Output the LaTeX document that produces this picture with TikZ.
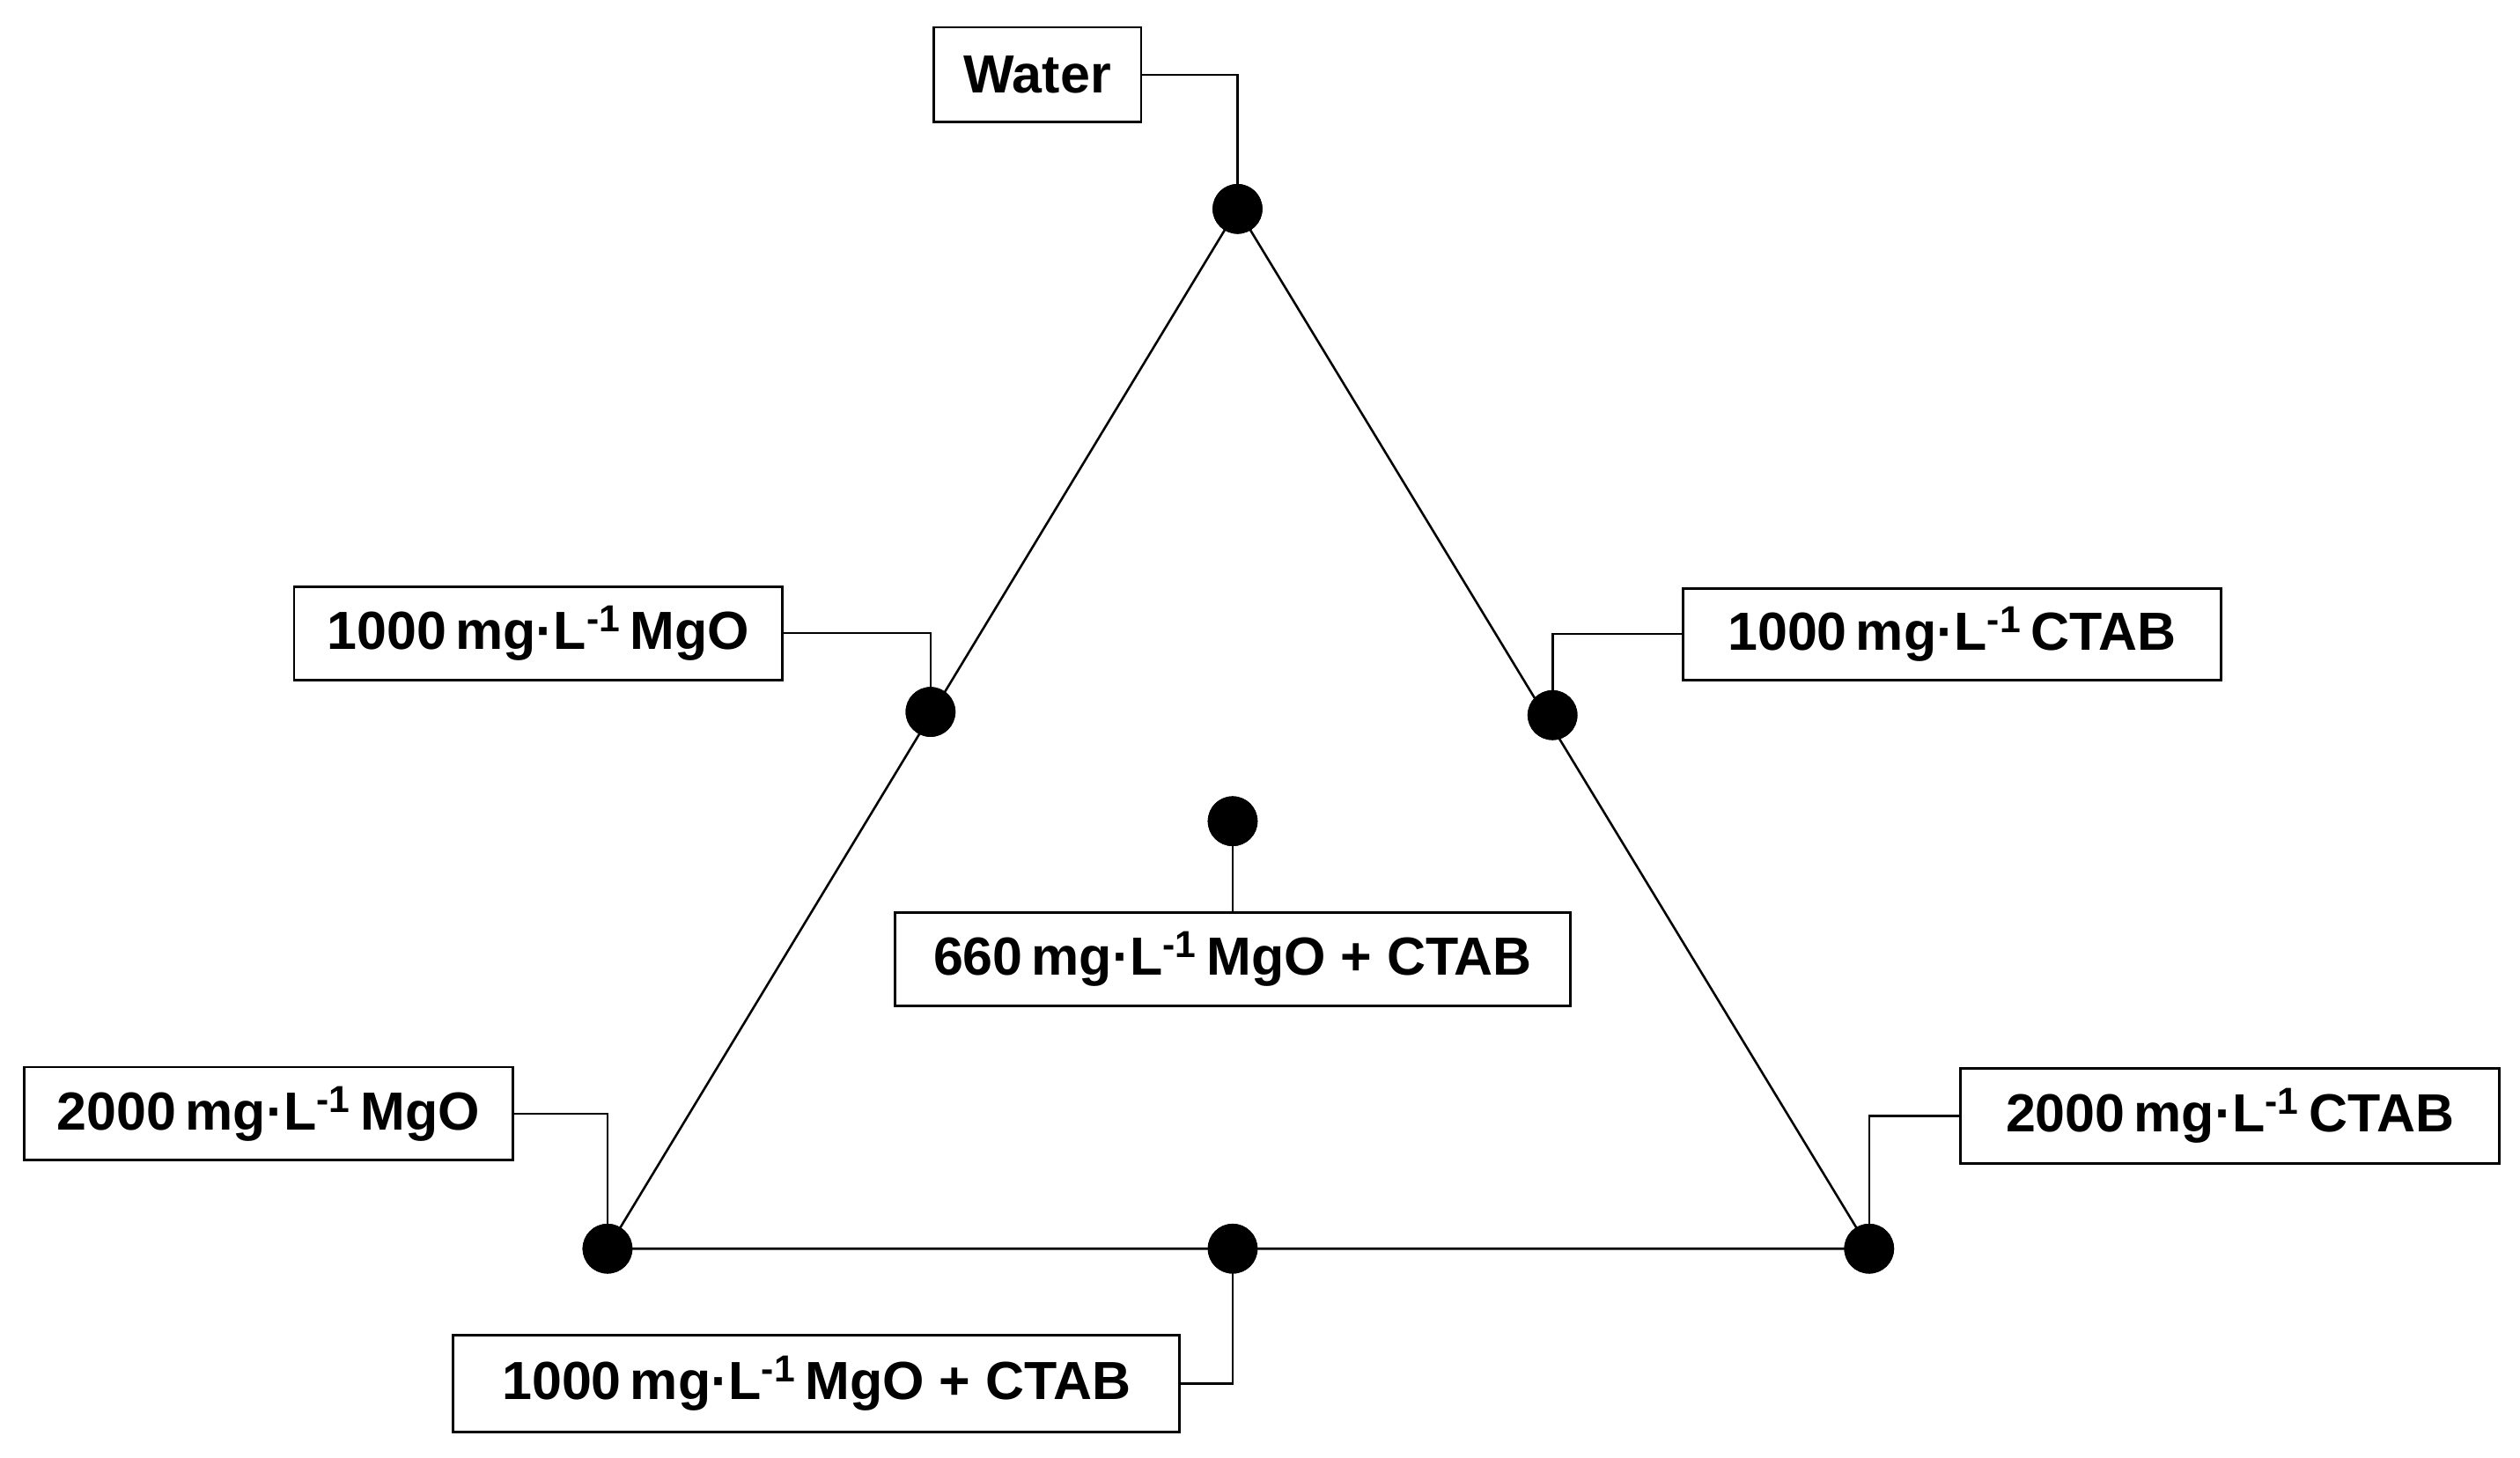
\documentclass[tikz,border=0pt]{standalone}
\usepackage{fontspec}
\setmainfont{Liberation Sans}
\begin{document}
\begin{tikzpicture}[x=0.02cm,y=-0.02cm,
  lab/.style={draw,line width=0.9pt,fill=white,inner sep=0pt,font=\fontsize{19}{23}\selectfont\bfseries},
  dot/.style={circle,fill=black,inner sep=0pt,minimum size=0.62cm},
  ln/.style={line width=0.8pt}]
\useasboundingbox (0,0) rectangle (1568,907);
\node[dot] (w) at (770,130) {};
\node[dot] (m1) at (579,443) {};
\node[dot] (c1) at (966,445) {};
\node[dot] (mc) at (767,511) {};
\node[dot] (m2) at (378,777) {};
\node[dot] (c2) at (1163,777) {};
\node[dot] (b) at (767,777) {};
\draw[ln] (w.center) -- (m2.center) -- (c2.center) -- cycle;
\node[lab,minimum width=129*0.02cm,minimum height=59*0.02cm] (tw) at (645.5,46.5) {Water};
\node[lab,minimum width=304*0.02cm,minimum height=58*0.02cm] (tm1) at (335,394) {1000\,mg·L\textsuperscript{-1}\,MgO};
\node[lab,minimum width=335*0.02cm,minimum height=57*0.02cm] (tc1) at (1214.5,394.5) {1000\,mg·L\textsuperscript{-1}\,CTAB};
\node[lab,minimum width=420*0.02cm,minimum height=58*0.02cm] (tmc) at (767,597) {660\,mg·L\textsuperscript{-1}\,MgO + CTAB};
\node[lab,minimum width=304*0.02cm,minimum height=58*0.02cm] (tm2) at (167,693) {2000\,mg·L\textsuperscript{-1}\,MgO};
\node[lab,minimum width=335*0.02cm,minimum height=59*0.02cm] (tc2) at (1387.5,694.5) {2000\,mg·L\textsuperscript{-1}\,CTAB};
\node[lab,minimum width=452*0.02cm,minimum height=60*0.02cm] (tb) at (508,861) {1000\,mg·L\textsuperscript{-1}\,MgO + CTAB};
\draw[ln] (tw.east) -| (w.center);
\draw[ln] (tm1.east) -| (m1.center);
\draw[ln] (tc1.west) -| (c1.center);
\draw[ln] (mc.center) -- (tmc.north);
\draw[ln] (tm2.east) -| (m2.center);
\draw[ln] (tc2.west) -| (c2.center);
\draw[ln] (tb.east) -| (b.center);
\foreach \n in {w,m1,c1,mc,m2,c2,b} \node[dot] at (\n) {};
\end{tikzpicture}
\end{document}
